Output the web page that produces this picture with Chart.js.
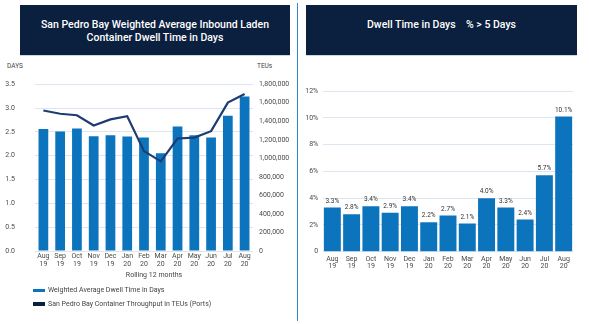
<!DOCTYPE html>
<html>
<head>
<meta charset="utf-8">
<script src="https://cdn.jsdelivr.net/npm/chart.js@4"></script>
<style>
  html, body { margin: 0; padding: 0; background: #fff; }
  body { width: 589px; height: 324px; position: relative; overflow: hidden; font-family: Roboto, "Noto Sans", sans-serif; color: #333; }
  .header { position: absolute; top: 5px; height: 51px; background: #0b1f3e; color: #fff; font-weight: 500; text-align: center; border-bottom: 1px solid #c9d8e6; box-sizing: border-box; }
  #hdrLeft { left: 20px; width: 270px; font-size: 10.5px; line-height: 13.3px; padding-top: 13px; }
  #hdrRight { left: 306px; width: 271px; font-size: 10.5px; line-height: 13px; padding-top: 13px; white-space: pre; }
  #divider { position: absolute; left: 296.5px; top: 3px; width: 1.5px; height: 318px; background: #2f86c8; }
  canvas { position: absolute; }
  #leftChart { left: 0; top: 60px; }
  #rightChart { left: 300px; top: 60px; }
  .axisUnit { position: absolute; top: 62px; font-size: 6.5px; color: #444; }
  #xTitle { position: absolute; left: 0; width: 308px; top: 271px; text-align: center; font-size: 7px; color: #444; }
  .legendItem { position: absolute; left: 33px; font-size: 7px; color: #444; height: 10px; line-height: 10px; }
  .legendItem i { position: absolute; left: 0; top: 3.5px; width: 12px; height: 3.5px; }
  .legendItem span { position: absolute; left: 15px; white-space: nowrap; }
</style>
</head>
<body>
<div class="header" id="hdrLeft">San Pedro Bay Weighted Average Inbound Laden<br>Container Dwell Time in Days</div>
<div class="header" id="hdrRight">Dwell Time in Days    % &gt; 5 Days</div>
<div id="divider"></div>

<span class="axisUnit" style="left:7px">DAYS</span>
<span class="axisUnit" style="left:257px">TEUs</span>
<canvas id="leftChart" width="298" height="222"></canvas>
<div id="xTitle">Rolling 12 months</div>
<div class="legendItem" style="top:285px"><i style="background:#0c74bd"></i><span>Weighted Average Dwell Time in Days</span></div>
<div class="legendItem" style="top:298.5px"><i style="background:#0b1f3e"></i><span>San Pedro Bay Container Throughput in TEUs (Ports)</span></div>

<canvas id="rightChart" width="289" height="222"></canvas>

<script>
// months, Aug 2019 - Aug 2020
const months = [['Aug', '19'], ['Sep', '19'], ['Oct', '19'], ['Nov', '19'], ['Dec', '19'], ['Jan', '20'],
  ['Feb', '20'], ['Mar', '20'], ['Apr', '20'], ['May', '20'], ['Jun', '20'], ['Jul', '20'], ['Aug', '20']];

// weighted average dwell time (days), rolling 12 months
const dwellDays = [2.56, 2.51, 2.57, 2.41, 2.43, 2.40, 2.38, 2.05, 2.61, 2.43, 2.38, 2.84, 3.24];

// container throughput (TEUs)
const throughputTeus = [1516000, 1481000, 1465000, 1355000, 1420000, 1455000,
  1078000, 967000, 1214000, 1224000, 1293000, 1601000, 1694000];

// share of containers dwelling more than 5 days (%)
const over5Days = [3.3, 2.8, 3.4, 2.9, 3.4, 2.2, 2.7, 2.1, 4.0, 3.3, 2.4, 5.7, 10.1];

const daysTicks = [0, 0.5, 1, 1.5, 2, 2.5, 3, 3.5];
const teuTicks = [0, 200000, 400000, 600000, 800000, 1000000, 1200000, 1400000, 1600000, 1800000];
const pctTicks = [0, 2, 4, 6, 8, 10, 12];

const barBlue = '#0c74bd';
const lineNavy = '#1d3c74';
const gridBlue = '#dbe6f0';
const tickGray = '#4a4a4a';
const tickFont = { family: 'Roboto', size: 7 };

Chart.defaults.font.family = 'Roboto';
Chart.defaults.animation = false;

new Chart(document.getElementById('leftChart'), {
  data: {
    labels: months,
    datasets: [
      {
        type: 'line',
        label: 'San Pedro Bay Container Throughput in TEUs (Ports)',
        data: throughputTeus,
        yAxisID: 'y1',
        borderColor: lineNavy,
        borderWidth: 2.2,
        pointRadius: 0,
        tension: 0,
        order: 0
      },
      {
        type: 'bar',
        label: 'Weighted Average Dwell Time in Days',
        data: dwellDays,
        yAxisID: 'y',
        backgroundColor: barBlue,
        barPercentage: 0.58,
        categoryPercentage: 1,
        order: 1
      }
    ]
  },
  options: {
    responsive: false,
    layout: { padding: { top: 16, right: 0, bottom: 0, left: 0 } },
    plugins: { legend: { display: false }, tooltip: { enabled: false } },
    scales: {
      x: {
        grid: { display: false, drawTicks: false },
        border: { display: false },
        ticks: { color: tickGray, font: { ...tickFont, lineHeight: 1.15 }, padding: 1, maxRotation: 0, autoSkip: false },
        afterFit: s => { s.height = 31; }
      },
      y: {
        position: 'left',
        min: 0, max: 3.5,
        afterBuildTicks: s => { s.ticks = daysTicks.map(v => ({ value: v })); },
        grid: { color: gridBlue, drawTicks: false },
        border: { display: false },
        ticks: { color: tickGray, font: tickFont, padding: 20, callback: v => v.toFixed(1) },
        afterFit: s => { s.width = 35; }
      },
      y1: {
        position: 'right',
        min: 0, max: 1800000,
        afterBuildTicks: s => { s.ticks = teuTicks.map(v => ({ value: v })); },
        grid: { display: false, drawTicks: false },
        border: { display: false },
        ticks: { color: tickGray, font: tickFont, padding: 6, callback: v => v.toLocaleString('en-US') },
        afterFit: s => { s.width = 45; }
      }
    }
  }
});

// percentage labels above each bar
const valueLabels = {
  id: 'valueLabels',
  afterDatasetsDraw(chart) {
    const ctx = chart.ctx;
    const meta = chart.getDatasetMeta(0);
    ctx.save();
    ctx.font = '6.5px Roboto';
    ctx.fillStyle = '#333';
    ctx.textAlign = 'center';
    ctx.textBaseline = 'middle';
    meta.data.forEach((bar, i) => {
      ctx.fillText(over5Days[i].toFixed(1) + '%', bar.x, bar.y - 6.5);
    });
    ctx.restore();
  }
};

new Chart(document.getElementById('rightChart'), {
  type: 'bar',
  data: {
    labels: months,
    datasets: [{
      label: '% > 5 Days',
      data: over5Days,
      backgroundColor: barBlue,
      barPercentage: 0.88,
      categoryPercentage: 1
    }]
  },
  plugins: [valueLabels],
  options: {
    responsive: false,
    layout: { padding: { top: 31, right: 15.7, bottom: 0, left: 0 } },
    plugins: { legend: { display: false }, tooltip: { enabled: false } },
    scales: {
      x: {
        grid: { display: false, drawTicks: false },
        border: { display: false },
        ticks: { color: tickGray, font: { ...tickFont, lineHeight: 1.0 }, padding: 4, maxRotation: 0, autoSkip: false },
        afterFit: s => { s.height = 30.3; }
      },
      y: {
        min: 0, max: 12,
        afterBuildTicks: s => { s.ticks = pctTicks.map(v => ({ value: v })); },
        grid: { color: gridBlue, drawTicks: false },
        border: { display: false },
        ticks: { color: tickGray, font: tickFont, padding: 4.5, callback: v => v === 0 ? '0' : v + '%' },
        afterFit: s => { s.width = 22.7; }
      }
    }
  }
});
</script>
</body>
</html>
